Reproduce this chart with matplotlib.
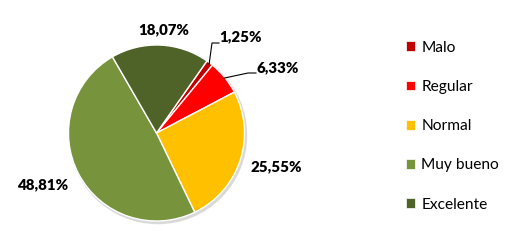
import matplotlib
matplotlib.use("Agg")
import matplotlib.pyplot as plt
import numpy as np

categories = ["Malo", "Regular", "Normal", "Muy bueno", "Excelente"]
values = [1.25, 6.33, 25.55, 48.81, 18.07]
labels = ["1,25%", "6,33%", "25,55%", "48,81%", "18,07%"]
colors = ["#C00000", "#FF0000", "#FFC000", "#77933C", "#4F6228"]

W, H = 521, 244
fig = plt.figure(figsize=(W / 100, H / 100), dpi=100)
ax = fig.add_axes([0, 0, 1, 1])
cx, cy, R = 156.5, H - 133, 88

# subtle shadow
shadow = plt.Circle((cx + 1.5, cy - 2), R + 0.5, color="#d9d9d9", zorder=0)
ax.add_patch(shadow)

wedges, _ = ax.pie(values, colors=colors, startangle=55, counterclock=False,
                   center=(cx, cy), radius=R,
                   wedgeprops=dict(edgecolor="white", linewidth=1.0))
ax.set_xlim(0, W)
ax.set_ylim(0, H)
ax.set_aspect("equal")
ax.axis("off")

font = "Lato"
# label placement (pixel coordinates of label centres, y from top)
label_pos = [(241, 37), (278, 68), (276, 167), (43, 185), (164, 30)]
for i, (w, lab) in enumerate(zip(wedges, labels)):
    x, y = label_pos[i]
    ax.text(x, H - y, lab, ha="center", va="center", fontsize=10.8,
            fontweight="heavy", family=font, color="black")

# leader lines for small slices
def edge_point(w, r=R):
    ang = np.deg2rad((w.theta1 + w.theta2) / 2)
    return cx + r * np.cos(ang), cy + r * np.sin(ang)

x0, y0 = edge_point(wedges[0], R - 1)
ax.plot([x0, 212, 219], [y0, H - 43, H - 43], color="black", lw=0.8)
x1, y1 = edge_point(wedges[1], R - 1)
ax.plot([x1, 248, 256], [y1, H - 73, H - 73], color="black", lw=0.8)

leg = ax.legend(wedges, categories, loc="upper left", bbox_to_anchor=(398 / W, 1 - 33 / H),
                frameon=False, handlelength=0.6, handleheight=0.6, handletextpad=0.4,
                labelspacing=1.62, prop=dict(family=font, size=11.2), borderpad=0)
for h in leg.legend_handles:
    h.set_edgecolor("white")
    h.set_linewidth(0.5)

fig.savefig("out.png", dpi=100)
